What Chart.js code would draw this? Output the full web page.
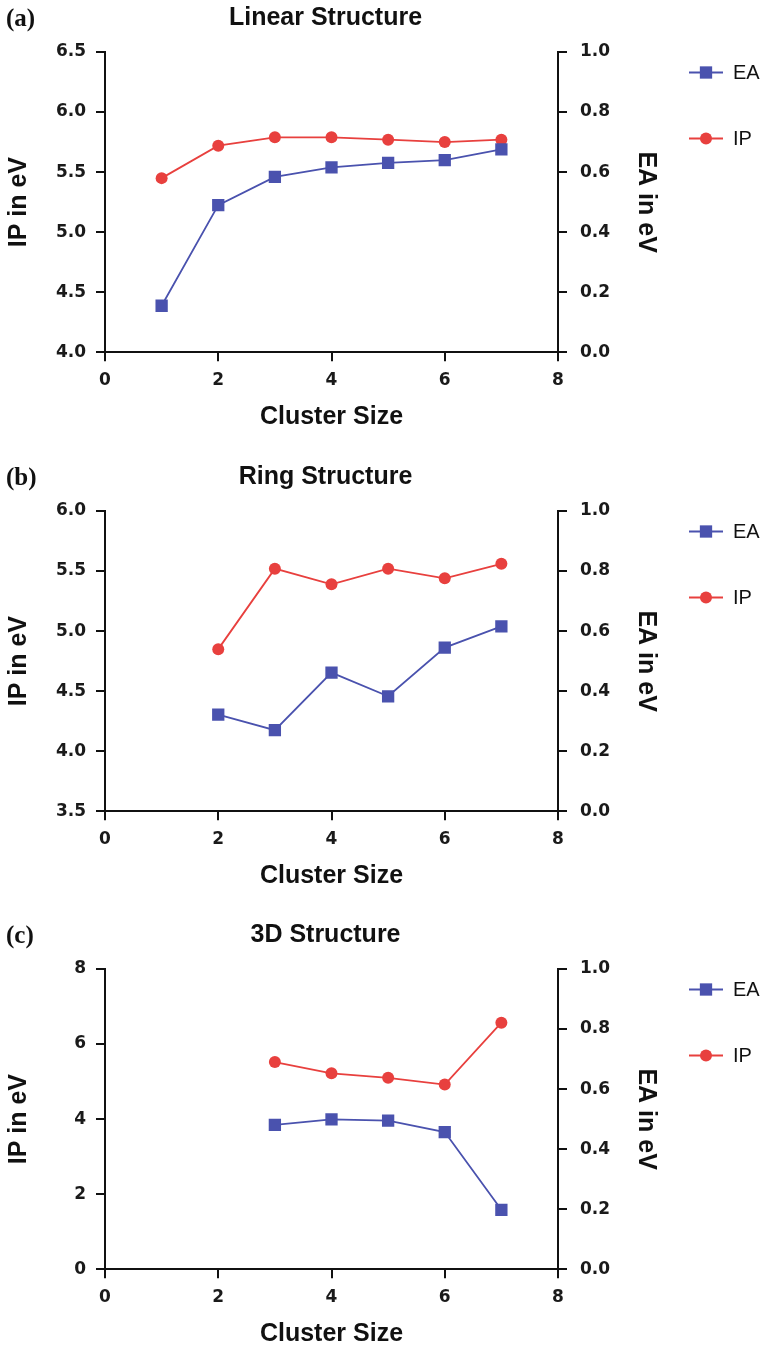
<!DOCTYPE html>
<html>
<head>
<meta charset="utf-8">
<script src="https://cdn.jsdelivr.net/npm/chart.js@4.4.1/dist/chart.umd.min.js"></script>
<style>
  html, body { margin: 0; padding: 0; background: #ffffff; overflow: hidden; }
  body { width: 765px; height: 1347px; position: relative; }
  .panel { position: absolute; left: 0; width: 765px; height: 459px; }
</style>
</head>
<body>
<div class="panel" style="top:0px"><canvas id="chartA" width="765" height="459"></canvas></div>
<div class="panel" style="top:459px"><canvas id="chartB" width="765" height="459"></canvas></div>
<div class="panel" style="top:917px"><canvas id="chartC" width="765" height="459"></canvas></div>
<script>
// ---------- DATA ----------
const panelLabels = ['(a)', '(b)', '(c)'];
const panelTitles = ['Linear Structure', 'Ring Structure', '3D Structure'];
const seriesNames = ['EA', 'IP'];

const clusterSizeLinear = [1, 2, 3, 4, 5, 6, 7];
const eaLinear = [0.155, 0.49, 0.584, 0.616, 0.631, 0.640, 0.676];
const ipLinear = [5.45, 5.72, 5.79, 5.79, 5.77, 5.75, 5.77];

const clusterSizeRing = [2, 3, 4, 5, 6, 7];
const eaRing = [0.322, 0.270, 0.462, 0.383, 0.545, 0.616];
const ipRing = [4.85, 5.52, 5.39, 5.52, 5.44, 5.56];

const clusterSize3D = [3, 4, 5, 6, 7];
const ea3D = [0.481, 0.499, 0.495, 0.457, 0.198];
const ip3D = [5.52, 5.22, 5.10, 4.92, 6.57];

// axis ranges / tick steps [min, max, step]
const xAxisRange = [0, 8, 2];
const eaAxisRange = [0, 1, 0.2];
const ipAxisLinear = [4.0, 6.5, 0.5];
const ipAxisRing = [3.5, 6.0, 0.5];
const ipAxis3D = [0, 8, 2];
const ipTickDecimals = [1, 1, 0];

// ---------- STYLE ----------
const EA_COLOR = '#4a52ae';
const IP_COLOR = '#e8403e';
const TICK_FONT = { family: "'DejaVu Sans', sans-serif", weight: 'bold', size: 17 };
const TITLE_FONT_FAMILY = "'Liberation Sans', Arial, sans-serif";

const panelDecor = {
  id: 'panelDecor',
  afterDraw(chart, args, opts) {
    const ctx = chart.ctx;
    const ca = chart.chartArea;
    ctx.save();
    // panel label
    ctx.fillStyle = '#111';
    ctx.textBaseline = 'middle';
    ctx.textAlign = 'left';
    ctx.font = "bold 25px 'Liberation Serif', 'Times New Roman', serif";
    ctx.fillText(opts.label, 6, ca.top - 32);
    // title
    ctx.textAlign = 'center';
    ctx.font = "bold 25px " + TITLE_FONT_FAMILY;
    ctx.fillText(opts.title, (ca.left + ca.right) / 2 - 6, ca.top - 34);

    // legend
    const h = Chart.helpers;
    chart.data.datasets.forEach((ds, i) => {
      const y = ca.top + 20.5 + i * 66;
      const x0 = 689, x1 = 723, xm = 706;
      ctx.strokeStyle = ds.borderColor;
      ctx.lineWidth = ds.borderWidth;
      ctx.beginPath();
      ctx.moveTo(x0, y);
      ctx.lineTo(x1, y);
      ctx.stroke();
      ctx.fillStyle = ds.pointBackgroundColor;
      ctx.strokeStyle = ds.pointBorderColor;
      ctx.lineWidth = ds.pointBorderWidth;
      if (h && h.drawPoint) {
        h.drawPoint(ctx, { pointStyle: ds.pointStyle, radius: ds.pointRadius, borderWidth: ds.pointBorderWidth, rotation: 0 }, xm, y);
      }
      ctx.fillStyle = '#111';
      ctx.textAlign = 'left';
      ctx.textBaseline = 'middle';
      ctx.font = "20px " + TITLE_FONT_FAMILY;
      ctx.fillText(ds.label, 733, y + 1);
    });
    ctx.restore();
  }
};

function toXY(xs, ys) {
  return xs.map((x, i) => ({ x: x, y: ys[i] }));
}

function makeChart(canvasId, idx, xs, ea, ip, ipRange) {
  const dec = ipTickDecimals[idx];
  const axisCommon = (range, fmt) => ({
    type: 'linear',
    min: range[0],
    max: range[1],
    border: { display: true, color: '#111', width: 2 },
    grid: { drawOnChartArea: false, drawTicks: true, tickLength: 9, color: '#111', lineWidth: 2 },
    ticks: { stepSize: range[2], color: '#1a1a1a', font: TICK_FONT, callback: fmt }
  });

  const xScale = axisCommon(xAxisRange, v => String(Math.round(v)));
  xScale.position = 'bottom';
  xScale.ticks.padding = 9;
  xScale.ticks.maxRotation = 0;
  xScale.title = { display: true, text: 'Cluster Size', color: '#111',
    font: { family: TITLE_FONT_FAMILY, weight: 'bold', size: 25 }, padding: { top: 0, bottom: 27 } };
  xScale.afterFit = s => { s.height = 106.7; };

  const yScale = axisCommon(ipRange, v => v.toFixed(dec));
  yScale.position = 'left';
  yScale.ticks.padding = 10;
  yScale.title = { display: true, text: 'IP in eV', color: '#111',
    font: { family: TITLE_FONT_FAMILY, weight: 'bold', size: 25 }, padding: { top: 4, bottom: 0 } };
  yScale.afterFit = s => { s.width = 105; };

  const y1Scale = axisCommon(eaAxisRange, v => v.toFixed(1));
  y1Scale.position = 'right';
  y1Scale.ticks.padding = 13;
  y1Scale.title = { display: true, text: 'EA in eV', color: '#111',
    font: { family: TITLE_FONT_FAMILY, weight: 'bold', size: 25 }, padding: { top: 104, bottom: 0 } };
  y1Scale.afterFit = s => { s.width = 207; };

  return new Chart(document.getElementById(canvasId), {
    type: 'line',
    data: {
      datasets: [
        {
          label: seriesNames[0],
          data: toXY(xs, ea),
          yAxisID: 'y1',
          borderColor: EA_COLOR,
          backgroundColor: EA_COLOR,
          borderWidth: 1.8,
          pointStyle: 'rect',
          pointRadius: 8.7,
          pointBackgroundColor: EA_COLOR,
          pointBorderColor: EA_COLOR,
          pointBorderWidth: 0,
          tension: 0,
          fill: false
        },
        {
          label: seriesNames[1],
          data: toXY(xs, ip),
          yAxisID: 'y',
          borderColor: IP_COLOR,
          backgroundColor: IP_COLOR,
          borderWidth: 1.8,
          pointStyle: 'circle',
          pointRadius: 6,
          pointBackgroundColor: IP_COLOR,
          pointBorderColor: IP_COLOR,
          pointBorderWidth: 0,
          tension: 0,
          fill: false
        }
      ]
    },
    options: {
      responsive: false,
      animation: false,
      devicePixelRatio: 1,
      layout: { padding: { top: 52, left: 0, right: 0, bottom: 0 } },
      plugins: {
        legend: { display: false },
        tooltip: { enabled: false },
        title: { display: false },
        panelDecor: { label: panelLabels[idx], title: panelTitles[idx] }
      },
      scales: { x: xScale, y: yScale, y1: y1Scale }
    },
    plugins: [panelDecor]
  });
}

makeChart('chartA', 0, clusterSizeLinear, eaLinear, ipLinear, ipAxisLinear);
makeChart('chartB', 1, clusterSizeRing, eaRing, ipRing, ipAxisRing);
makeChart('chartC', 2, clusterSize3D, ea3D, ip3D, ipAxis3D);
</script>
</body>
</html>
